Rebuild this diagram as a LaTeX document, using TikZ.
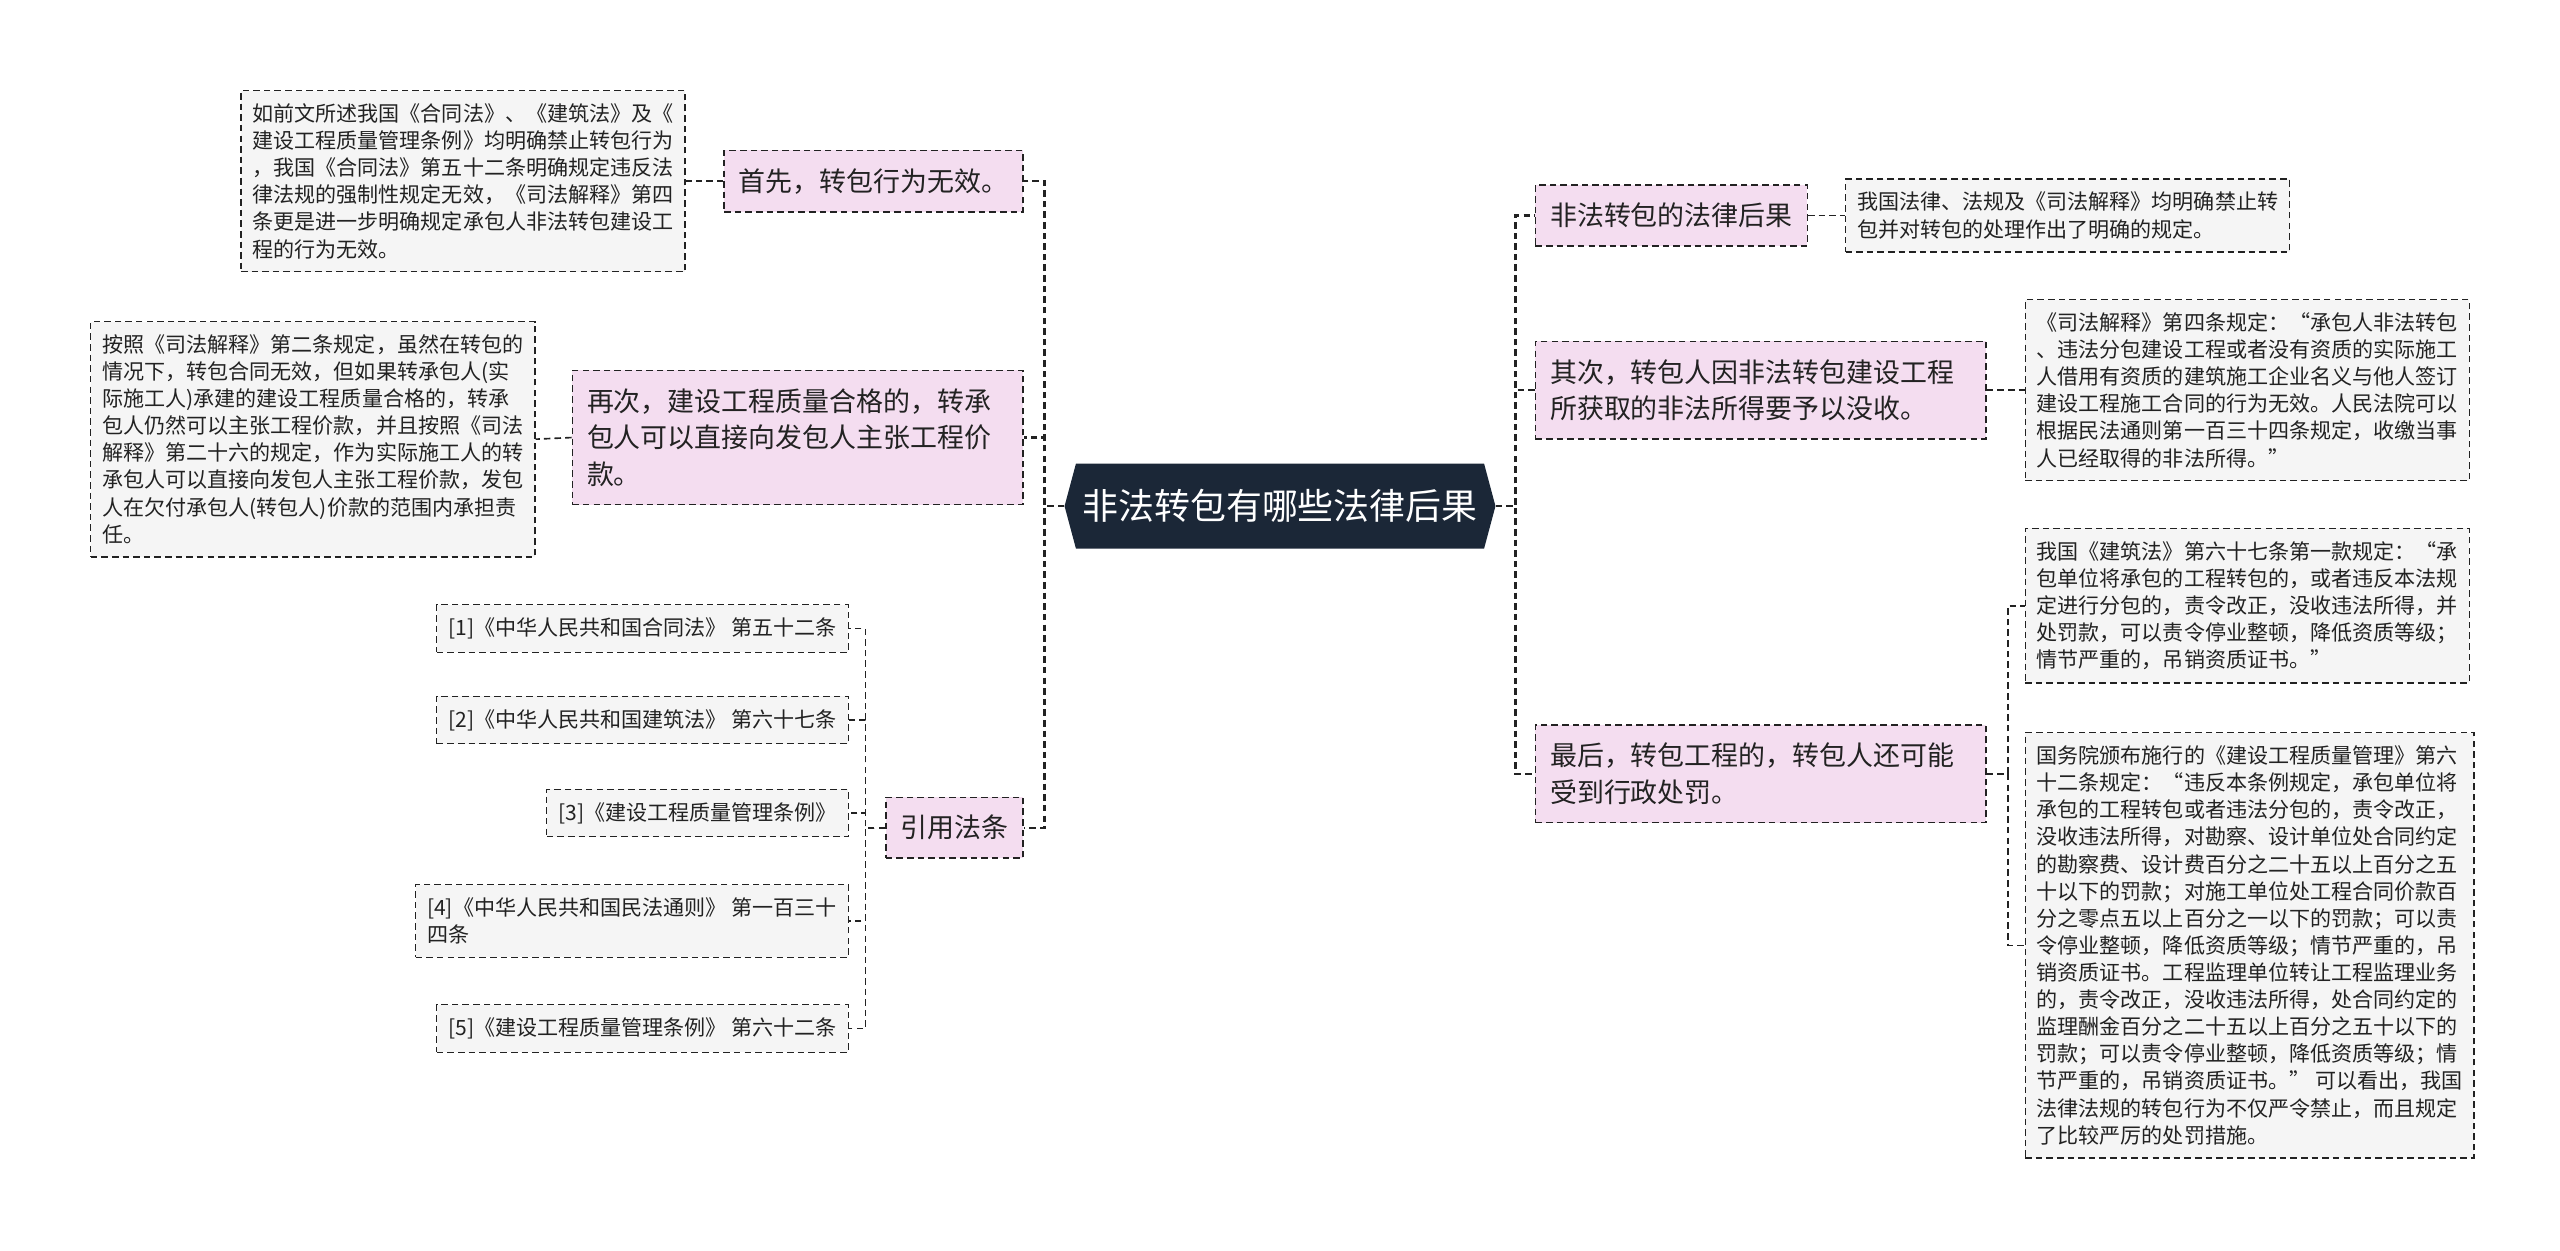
\documentclass[tikz,border=0pt]{standalone}
\usepackage{fontspec}
\setmainfont{Noto Sans CJK SC}
\usetikzlibrary{shapes.symbols}

\definecolor{hubnavy}{HTML}{1B2737}
\definecolor{topicpink}{HTML}{F4DDF0}
\definecolor{leafgray}{HTML}{F5F5F5}
\definecolor{inkgray}{HTML}{222222}

\tikzset{
  link/.style={draw=inkgray, line width=1pt, dash pattern=on 4pt off 2.5pt},
  mainlink/.style={link, line width=1.5pt},
  hubnode/.style={signal, signal to=west and east, signal pointer angle=150,
    fill=hubnavy, text=white, font=\fontsize{22}{26}\selectfont,
    minimum height=52pt, inner xsep=4pt},
  topic/.style={draw=inkgray, line width=0.9pt, dash pattern=on 4pt off 2.5pt,
    fill=topicpink, text=inkgray, font=\fontsize{16.5}{22.5}\selectfont,
    align=left, inner xsep=9pt, inner ysep=11pt},
  widetopic/.style={topic, text width=258pt},
  leaf/.style={draw=inkgray, line width=0.8pt, dash pattern=on 4pt off 2.5pt,
    fill=leafgray, text=inkgray, font=\fontsize{12.9}{16.6}\selectfont,
    align=left, inner xsep=7pt, inner ysep=8pt},
}

\begin{document}
\begin{tikzpicture}[x=1pt, y=-1pt]
  \useasboundingbox (0,0) rectangle (1568,766);

  \node[hubnode] (hub) at (784,310) {非法转包有哪些法律后果};

  % left side
  \node[topic, anchor=east] (first) at (627,111) {首先，转包行为无效。};
  \node[widetopic, anchor=east] (second) at (627,268) {再次，建设工程质量合格的，转承\\包人可以直接向发包人主张工程价\\款。};
  \node[topic, anchor=east] (cite) at (627,507) {引用法条};

  \node[leaf, anchor=east] (firstnote) at (420,111) {如前文所述我国《合同法》、《建筑法》及《\\建设工程质量管理条例》均明确禁止转包行为\\，我国《合同法》第五十二条明确规定违反法\\律法规的强制性规定无效，《司法解释》第四\\条更是进一步明确规定承包人非法转包建设工\\程的行为无效。};
  \node[leaf, anchor=east] (secondnote) at (328,269) {按照《司法解释》第二条规定，虽然在转包的\\情况下，转包合同无效，但如果转承包人(实\\际施工人)承建的建设工程质量合格的，转承\\包人仍然可以主张工程价款，并且按照《司法\\解释》第二十六的规定，作为实际施工人的转\\承包人可以直接向发包人主张工程价款，发包\\人在欠付承包人(转包人)价款的范围内承担责\\任。};

  \node[leaf, anchor=east] (law1) at (520,385) {[1]《中华人民共和国合同法》 第五十二条};
  \node[leaf, anchor=east] (law2) at (520,441) {[2]《中华人民共和国建筑法》 第六十七条};
  \node[leaf, anchor=east] (law3) at (520,498) {[3]《建设工程质量管理条例》};
  \node[leaf, anchor=east] (law4) at (520,564) {[4]《中华人民共和国民法通则》 第一百三十\\四条};
  \node[leaf, anchor=east] (law5) at (520,630) {[5]《建设工程质量管理条例》 第六十二条};

  % right side
  \node[topic, anchor=west] (meaning) at (940,132) {非法转包的法律后果};
  \node[widetopic, anchor=west] (confiscate) at (940,239) {其次，转包人因非法转包建设工程\\所获取的非法所得要予以没收。};
  \node[widetopic, anchor=west] (penalty) at (940,474) {最后，转包工程的，转包人还可能\\受到行政处罚。};

  \node[leaf, anchor=west] (meaningnote) at (1130,132) {我国法律、法规及《司法解释》均明确禁止转\\包并对转包的处理作出了明确的规定。};
  \node[leaf, anchor=west] (confiscatenote) at (1240,239) {《司法解释》第四条规定：“承包人非法转包\\、违法分包建设工程或者没有资质的实际施工\\人借用有资质的建筑施工企业名义与他人签订\\建设工程施工合同的行为无效。人民法院可以\\根据民法通则第一百三十四条规定，收缴当事\\人已经取得的非法所得。”};
  \node[leaf, anchor=west] (penaltynote1) at (1240,371) {我国《建筑法》第六十七条第一款规定：“承\\包单位将承包的工程转包的，或者违反本法规\\定进行分包的，责令改正，没收违法所得，并\\处罚款，可以责令停业整顿，降低资质等级；\\情节严重的，吊销资质证书。”};
  \node[leaf, anchor=west] (penaltynote2) at (1240,579) {国务院颁布施行的《建设工程质量管理》第六\\十二条规定：“违反本条例规定，承包单位将\\承包的工程转包或者违法分包的，责令改正，\\没收违法所得，对勘察、设计单位处合同约定\\的勘察费、设计费百分之二十五以上百分之五\\十以下的罚款；对施工单位处工程合同价款百\\分之零点五以上百分之一以下的罚款；可以责\\令停业整顿，降低资质等级；情节严重的，吊\\销资质证书。工程监理单位转让工程监理业务\\的，责令改正，没收违法所得，处合同约定的\\监理酬金百分之二十五以上百分之五十以下的\\罚款；可以责令停业整顿，降低资质等级；情\\节严重的，吊销资质证书。” 可以看出，我国\\法律法规的转包行为不仅严令禁止，而且规定\\了比较严厉的处罚措施。};

  % connectors
  \foreach \t in {first,second,cite}
    \draw[mainlink] (hub.west) -- ++(-12,0) |- (\t.east);
  \foreach \t in {meaning,confiscate,penalty}
    \draw[mainlink] (hub.east) -- ++(12,0) |- (\t.west);
  \foreach \i in {1,...,5}
    \draw[link] (cite.west) -- ++(-12,0) |- (law\i.east);
  \foreach \i in {1,2}
    \draw[link] (penalty.east) -- ++(13,0) |- (penaltynote\i.west);
  \draw[link] (first.west) -- (firstnote.east);
  \draw[link] (second.west) -- (secondnote.east);
  \draw[link] (meaning.east) -- (meaningnote.west);
  \draw[link] (confiscate.east) -- (confiscatenote.west);
\end{tikzpicture}
\end{document}
